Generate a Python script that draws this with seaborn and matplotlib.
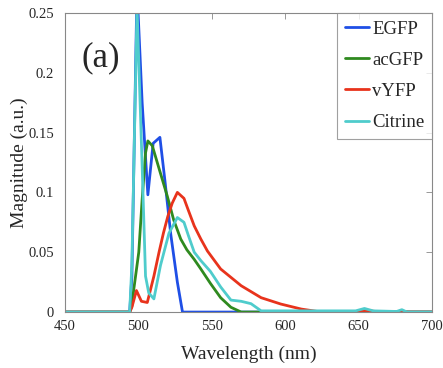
import matplotlib
matplotlib.use("Agg")
import matplotlib.pyplot as plt
import seaborn as sns
import pandas as pd

# emission spectra (wavelength in nm, magnitude a.u.)
egfp_nm = [450, 494, 495.5, 499, 502.5, 506.4, 510, 514.6, 518, 522, 526.5, 530, 535, 700]
egfp_mag = [0, 0, 0.03, 0.27, 0.175, 0.098, 0.141, 0.146, 0.11, 0.065, 0.025, 0, 0, 0]

acgfp_nm = [450, 494, 495.5, 496.8, 500.2, 502.5, 504.8, 506.4, 509.4, 514, 519.6, 524, 528.8,
            533, 538, 542.5, 549, 556, 563, 570, 700]
acgfp_mag = [0, 0, 0.005, 0.019, 0.05, 0.094, 0.133, 0.143, 0.139, 0.12, 0.097, 0.077, 0.061,
             0.052, 0.044, 0.036, 0.024, 0.012, 0.004, 0, 0]

vyfp_nm = [450, 494, 495.5, 498.6, 502, 506, 510.5, 514, 517, 520, 523, 526.5, 531, 534,
           538, 542.5, 547, 556, 563, 570, 583.6, 597, 611, 624.7, 645, 652, 658, 665, 700]
vyfp_mag = [0, 0, 0.004, 0.018, 0.009, 0.008, 0.03, 0.05, 0.066, 0.08, 0.091, 0.1, 0.095, 0.085,
            0.072, 0.061, 0.051, 0.036, 0.029, 0.022, 0.012, 0.0067, 0.0025, 0, 0, 0.001, 0.001, 0, 0]

citrine_nm = [450, 494, 495.5, 499, 502.5, 504.8, 507, 510.5, 515, 520.8, 526.5, 531, 534,
              538, 542.5, 549, 556, 563, 570, 576.7, 583.6, 590, 648, 654, 660, 676, 679.5, 683, 700]
citrine_mag = [0, 0, 0.04, 0.255, 0.122, 0.03, 0.016, 0.011, 0.039, 0.066, 0.079, 0.075, 0.064,
               0.05, 0.043, 0.034, 0.021, 0.01, 0.009, 0.007, 0.001, 0.001, 0.001, 0.003, 0.001,
               0.0005, 0.002, 0, 0]

names = ["EGFP", "acGFP", "vYFP", "Citrine"]
colors = ["#1f4fe6", "#2f8a1f", "#e8331c", "#4fcccc"]

frames = []
for name, nm, mag in zip(names, [egfp_nm, acgfp_nm, vyfp_nm, citrine_nm],
                         [egfp_mag, acgfp_mag, vyfp_mag, citrine_mag]):
    frames.append(pd.DataFrame({"Wavelength": nm, "Magnitude": mag, "Protein": name}))
df = pd.concat(frames, ignore_index=True)

sns.set_theme(style="white")
plt.rcParams['font.family'] = ['Liberation Serif', 'DejaVu Serif']

fig = plt.figure(figsize=(4.43, 3.68), dpi=100)
ax = fig.add_axes([0.147, 0.152, 0.828, 0.813])

sns.lineplot(data=df, x="Wavelength", y="Magnitude", hue="Protein", hue_order=names,
             palette=colors, linewidth=2, sort=False, estimator=None, ax=ax)

ax.set_xlim(450, 700)
ax.set_ylim(0, 0.25)
ax.set_xticks([450, 500, 550, 600, 650, 700])
ax.set_yticks([0, 0.05, 0.1, 0.15, 0.2, 0.25])
ax.set_yticklabels(["0", "0.05", "0.1", "0.15", "0.2", "0.25"])
ax.tick_params(direction="in", length=4, width=0.6, color="#888888", labelsize=10.5,
               top=True, right=True)
ax.tick_params(axis="x", pad=6)
ax.tick_params(axis="y", pad=8)
for s in ax.spines.values():
    s.set_color("#888888")
    s.set_linewidth(0.8)

ax.set_xlabel("Wavelength (nm)", fontsize=14, labelpad=9)
ax.set_ylabel("Magnitude (a.u.)", fontsize=14, labelpad=0)

ax.text(474, 0.2125, "(a)", fontsize=25, ha="center", va="center")

leg = ax.legend(loc="upper right", fontsize=13.5, frameon=True, fancybox=False,
                handlelength=1.3, handletextpad=0.15, borderpad=0.4, labelspacing=0.75,
                borderaxespad=0.0)
leg.get_frame().set_edgecolor("#888888")
leg.get_frame().set_linewidth(0.8)
leg.set_title(None)

fig.savefig("out.png", dpi=100)
